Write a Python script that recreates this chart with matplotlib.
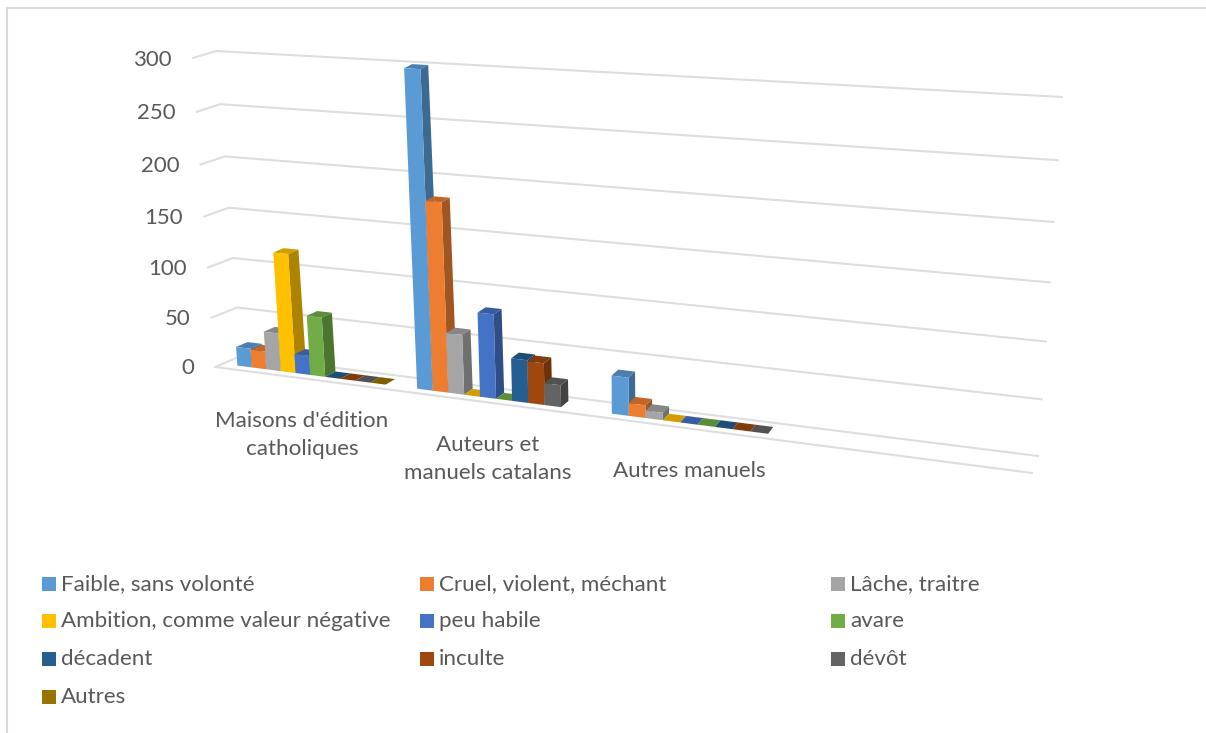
import numpy as np
import matplotlib
matplotlib.use('Agg')
import matplotlib.pyplot as plt
from matplotlib.patches import Polygon, Rectangle

plt.rcParams['font.family'] = ['Lato', 'DejaVu Sans']

# donnees
categories = ["Maisons d'édition\ncatholiques", "Auteurs et\nmanuels catalans", "Autres manuels"]
series = ['Faible, sans volonté', 'Cruel, violent, méchant', 'Lâche, traitre',
          'Ambition, comme valeur négative', 'peu habile', 'avare',
          'décadent', 'inculte', 'dévôt', 'Autres']
colors = ['#5B9BD5', '#ED7D31', '#A5A5A5', '#FFC000', '#4472C4', '#70AD47',
          '#255E91', '#9E480E', '#636363', '#997300']
maisons = [19, 18, 38, 118, 19, 59, 0, 0, 0, 0]
auteurs = [300, 181, 58, 0, 81, 0, 41, 40, 21, np.nan]
autres = [36, 12, 7, 0, 0, 0, 0, 0, 0, np.nan]
yticks = [0, 50, 100, 150, 200, 250, 300]

n_cat = 4
vmax = 300.0
gap = 0.085
d_front, d_back = 0.30, 0.75


def homography(corners):
    # coins: (u,v) = (0,1), (1,1), (0,0), (1,0)
    src = [(0, 1), (1, 1), (0, 0), (1, 0)]
    A, b = [], []
    for (u, v), (x, y) in zip(src, corners):
        A.append([u, v, 1, 0, 0, 0, -u*x, -v*x])
        A.append([0, 0, 0, u, v, 1, -u*y, -v*y])
        b += [x, y]
    return np.append(np.linalg.solve(np.array(A, float), np.array(b, float)), 1).reshape(3, 3)


H_front = homography([(193, 58), (1057, 112), (215, 367), (1032, 473)])
H_wall = homography([(216, 51), (1062, 97), (241, 356), (1038, 456)])


def apply(H, u, v):
    p = H @ np.array([u, v, 1.0])
    return p[:2] / p[2]


def proj(cat, val, d):
    u = cat / n_cat
    v = val / vmax
    return (1 - d) * apply(H_front, u, v) + d * apply(H_wall, u, v)


def shade(c, k):
    r = np.array(matplotlib.colors.to_rgb(c)) * k
    return tuple(r)


fig = plt.figure(figsize=(12.06, 7.33), dpi=100)
ax = fig.add_axes([0, 0, 1, 1])
ax.set_xlim(0, 1206)
ax.set_ylim(733, 0)
ax.axis('off')

# cadre
ax.plot([7, 7, 1206], [733, 8, 8], color='#D9D9D9', lw=1.5, zorder=1)

# grille
for t in yticks:
    pts = [proj(0, t, 0), proj(0, t, 1), proj(n_cat, t, 1)]
    ax.plot([p[0] for p in pts], [p[1] for p in pts], color='#DEDEDE', lw=1.5, zorder=1)
    x0, y0 = proj(0, t, 0)
    ax.text(x0 - 21, y0 + 1.5, str(t), ha='right', va='center', fontsize=16, color='#595959')
a, b = proj(0, 0, 0), proj(n_cat, 0, 0)
ax.plot([a[0], b[0]], [a[1], b[1]], color='#DEDEDE', lw=1.5, zorder=1)

# barres
bar_w = (1 - 2 * gap) / len(series)
z = 2
for i, vals in enumerate([maisons, auteurs, autres]):
    for k, val in enumerate(vals):
        if np.isnan(val):
            continue
        c0 = i + gap + k * bar_w
        c1 = c0 + bar_w
        fl0, fl1 = proj(c0, 0, d_front), proj(c1, 0, d_front)
        ft0, ft1 = proj(c0, val, d_front), proj(c1, val, d_front)
        bt0, bt1 = proj(c0, val, d_back), proj(c1, val, d_back)
        bl1 = proj(c1, 0, d_back)
        ax.add_patch(Polygon([ft0, ft1, bt1, bt0], fc=shade(colors[k], 0.82), ec='none', zorder=z))
        ax.add_patch(Polygon([fl1, bl1, bt1, ft1], fc=shade(colors[k], 0.68), ec='none', zorder=z))
        ax.add_patch(Polygon([fl0, fl1, ft1, ft0], fc=colors[k], ec='none', zorder=z))
        z += 1

# etiquettes de categories
cat_x = [302, 488, 689]
cat_y = [435, 459, 471]
for name, x, y in zip(categories, cat_x, cat_y):
    ax.text(x, y, name, ha='center', va='center', fontsize=16.1, color='#595959', linespacing=1.55)

# legende
col_x = [43, 421, 832]
row_y = [584, 621, 659, 697]
for k, name in enumerate(series):
    x = col_x[k % 3]
    y = row_y[k // 3]
    ax.add_patch(Rectangle((x - 1, y - 7), 14, 14, fc=colors[k], ec='none'))
    ax.text(x + 18, y, name, ha='left', va='center', fontsize=16.1, color='#595959')

fig.savefig('out.png', dpi=100)
